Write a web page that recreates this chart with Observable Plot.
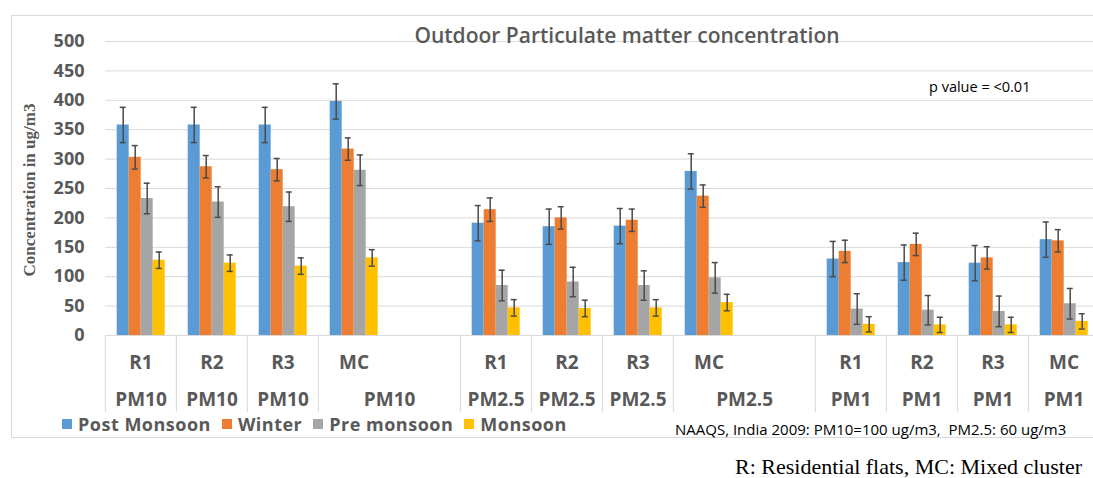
<!DOCTYPE html>
<html>
<head>
<meta charset="utf-8">
<script src="https://cdn.jsdelivr.net/npm/d3@7"></script>
<script src="https://cdn.jsdelivr.net/npm/@observablehq/plot@0.6"></script>
<style>
  html, body { margin: 0; padding: 0; overflow: hidden; background: #fff; }
  #wrap { position: relative; width: 1093px; height: 478px; overflow: hidden; font-family: "Open Sans", sans-serif; color: #595959; }
  #border { position: absolute; left: 11px; top: 15px; width: 1110px; height: 423px; border: 1px solid #d9d9d9; box-sizing: border-box; }
  #chart { position: absolute; left: 0; top: 0; width: 1110px; }
  #chart svg { max-width: none !important; }
  .abs { position: absolute; white-space: nowrap; line-height: 1; }
  #title { left: 627px; top: 35px; transform: translate(-50%, -50%); font-size: 21px; font-weight: 600; }
  #pval { left: 929px; top: 87px; transform: translateY(-50%); font-size: 14.5px; color: #000; }
  #ytitle { left: 29px; top: 190px; transform: translate(-50%, -50%) rotate(-90deg); font-family: "Liberation Serif", serif; font-weight: bold; font-size: 17px; }
  #legend { left: 62px; top: 424px; transform: translateY(-50%); display: flex; align-items: center; font-size: 18px; font-weight: bold; letter-spacing: 0.5px; }
  #legend .item { display: flex; align-items: center; margin-right: 11px; }
  #legend .sw { width: 10px; height: 10px; margin-right: 6px; }
  #naaqs { left: 675px; top: 429px; transform: translateY(-50%); font-size: 15px; color: #000; }
  #caption { left: 735px; top: 467px; transform: translateY(-50%); font-family: "Liberation Serif", serif; font-size: 22px; color: #000; }
</style>
</head>
<body>
<div id="wrap">
  <div id="border"></div>
  <div id="chart"></div>
  <div id="title" class="abs">Outdoor Particulate matter concentration</div>
  <div id="pval" class="abs">p value = &lt;0.01</div>
  <div id="ytitle" class="abs">Concentration in ug/m3</div>
  <div id="legend" class="abs"></div>
  <div id="naaqs" class="abs">NAAQS, India 2009: PM10=100 ug/m3,&nbsp; PM2.5: 60 ug/m3</div>
  <div id="caption" class="abs">R: Residential flats, MC: Mixed cluster</div>
</div>
<script>
// ---- data ----
const sites = ["R1", "R2", "R3", "MC"];
const pollutants = ["PM10", "PM2.5", "PM1"];
const seasons = ["Post Monsoon", "Winter", "Pre monsoon", "Monsoon"];
const seasonColors = ["#5b9bd5", "#ed7d31", "#a5a5a5", "#ffc000"];
const yTicks = [0, 50, 100, 150, 200, 250, 300, 350, 400, 450, 500];

// order: PM10 R1,R2,R3,MC, PM2.5 R1..MC, PM1 R1..MC
const postMonsoon = [358, 358, 358, 398, 191, 185, 186, 279, 130, 124, 123, 163];
const winter      = [303, 287, 282, 317, 214, 200, 196, 237, 143, 155, 132, 161];
const preMonsoon  = [233, 227, 219, 281, 85, 91, 85, 98, 45, 43, 41, 54];
const monsoon     = [128, 123, 118, 132, 47, 46, 47, 56, 19, 18, 18, 24];

const postMonsoonErr = [30, 30, 30, 30, 30, 30, 30, 30, 30, 30, 30, 30];
const winterErr      = [20, 19, 19, 19, 20, 19, 19, 19, 19, 19, 19, 19];
const preMonsoonErr  = [26, 26, 25, 26, 26, 25, 25, 26, 26, 25, 26, 26];
const monsoonErr     = [14, 14, 14, 14, 14, 14, 14, 14, 13, 13, 13, 13];

// ---- build tables ----
const seriesValues = [postMonsoon, winter, preMonsoon, monsoon];
const seriesErrs = [postMonsoonErr, winterErr, preMonsoonErr, monsoonErr];

const fxDomain = [];
const catRows = [];
pollutants.forEach((p, pi) => {
  sites.forEach(s => {
    const key = p + " " + s;
    fxDomain.push(key);
    catRows.push({key, inner: s, outer: p, site: s, real: true});
  });
  if (pi < pollutants.length - 1) {
    const key = p + " gap";
    fxDomain.push(key);
    catRows.push({key, inner: "", outer: "", site: "", real: false});
  }
});
const realCats = catRows.filter(d => d.real);

const rows = [];
realCats.forEach((c, ci) => {
  seasons.forEach((season, si) => {
    rows.push({key: c.key, season, value: seriesValues[si][ci], err: seriesErrs[si][ci]});
  });
});

// ---- layout ----
const W = 1110, marginLeft = 103.3, plotRight = 1101.3;
const marginTop = 41, axisY0 = 335, marginBottom = 80;
const H = axisY0 + marginBottom;
const step = (plotRight - marginLeft) / fxDomain.length;
const labelColor = "#595959";
const errColor = "#4a4a4a";
const catFont = 19;

const plot = Plot.plot({
  width: W,
  height: H,
  marginLeft,
  marginRight: W - plotRight,
  marginTop,
  marginBottom,
  style: {fontFamily: "Open Sans, sans-serif", overflow: "visible", maxWidth: "none"},
  fx: {domain: fxDomain, padding: 0, axis: null},
  x: {domain: seasons, paddingInner: 0, paddingOuter: 0.75, axis: null},
  y: {domain: [0, 500]},
  color: {domain: seasons, range: seasonColors},
  marks: [
    Plot.gridY(yTicks, {stroke: "#d9d9d9", strokeOpacity: 1}),
    Plot.axisY(yTicks, {tickSize: 0, tickPadding: 21, fontSize: 18, fontWeight: "bold", fill: labelColor, label: null}),
    Plot.barY(rows, {fx: "key", x: "season", y: "value", fill: "season"}),
    Plot.ruleX(rows, {fx: "key", x: "season", y1: d => d.value - d.err, y2: d => d.value + d.err, stroke: errColor, strokeWidth: 1.5}),
    Plot.tickY(rows, {fx: "key", x: "season", y: d => d.value - d.err, insetLeft: 3, insetRight: 3, stroke: errColor, strokeWidth: 1.5}),
    Plot.tickY(rows, {fx: "key", x: "season", y: d => d.value + d.err, insetLeft: 3, insetRight: 3, stroke: errColor, strokeWidth: 1.5}),
    // category separators below the axis (left edge of each labelled cell)
    Plot.ruleX(realCats, {fx: "key", x: null, y1: () => 0, y2: () => 0, insetBottom: -77, dx: -step / 2, stroke: "#d9d9d9"}),
    // inner labels (sites)
    Plot.text(catRows, {fx: "key", text: "inner", frameAnchor: "bottom", dy: 27, lineAnchor: "middle", fontSize: catFont, fontWeight: "bold", fill: labelColor}),
    // outer labels (pollutant) for R1-R3
    Plot.text(realCats.filter(d => d.site !== "MC"), {fx: "key", text: "outer", frameAnchor: "bottom", dy: 64, lineAnchor: "middle", fontSize: catFont, fontWeight: "bold", fill: labelColor}),
    // outer label for MC spans MC + following blank cell (last one has no blank)
    Plot.text(realCats.filter(d => d.site === "MC" && d.outer !== "PM1"), {fx: "key", text: "outer", frameAnchor: "bottom", dy: 64, dx: step / 2, lineAnchor: "middle", fontSize: catFont, fontWeight: "bold", fill: labelColor}),
    Plot.text(realCats.filter(d => d.site === "MC" && d.outer === "PM1"), {fx: "key", text: "outer", frameAnchor: "bottom", dy: 64, lineAnchor: "middle", fontSize: catFont, fontWeight: "bold", fill: labelColor})
  ]
});
document.getElementById("chart").appendChild(plot);

// legend
const legend = document.getElementById("legend");
seasons.forEach((s, i) => {
  const item = document.createElement("div");
  item.className = "item";
  const sw = document.createElement("div");
  sw.className = "sw";
  sw.style.background = seasonColors[i];
  const t = document.createElement("span");
  t.textContent = s;
  item.appendChild(sw);
  item.appendChild(t);
  legend.appendChild(item);
});
</script>
</body>
</html>
